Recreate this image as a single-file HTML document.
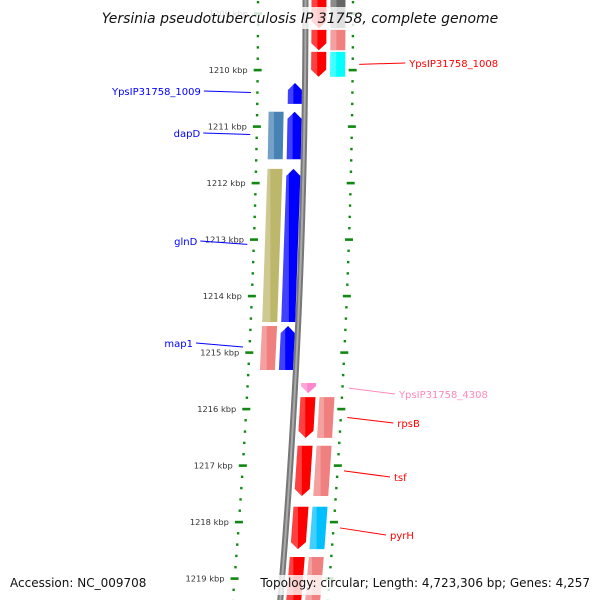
<!DOCTYPE html>
<html><head><meta charset="utf-8"><style>
html,body{margin:0;padding:0;background:#fff}
svg{display:block;font-family:"DejaVu Sans","Liberation Sans",sans-serif}
</style></head><body>
<svg id="map" width="600" height="600" viewBox="0 0 600 600" xmlns="http://www.w3.org/2000/svg">
<g id="layer"></g>
</svg>
<script>
// kbp tick labels
const kbpTicks = [1209,1210,1211,1212,1213,1214,1215,1216,1217,1218,1219];
// features
const featNames = ["r0","r1","YpsIP31758_1008","YpsIP31758_1009","dapD","glnD","map1","YpsIP31758_4308","rpsB","tsf","pyrH","r11"];
const featStart = [1208.41,1209.29,1209.68,1210.23,1210.74,1211.75,1214.53,1215.54,1215.79,1216.65,1217.73,1218.62];
const featEnd   = [1209.26,1209.65,1210.12,1210.60,1211.58,1214.46,1215.31,1215.72,1216.51,1217.54,1218.48,1219.6];
const featStrand= [-1,-1,-1,1,1,1,1,-1,-1,-1,-1,-1];
const featColor = ["#ff0000","#ff0000","#ff0000","#0000ff","#0000ff","#0000ff","#0000ff","#ff88cc","#ff0000","#ff0000","#ff0000","#ff0000"];
const colColor  = ["#666666","#f08080","#00ffff",null,"#4682b4","#bdb76b","#f08080",null,"#f08080","#f08080","#00bfff","#f08080"];
const showLabel = [false,false,true,true,true,true,true,true,true,true,true,false];
const labelColor= ["","","#ff0000","#0000ff","#0000ff","#0000ff","#0000ff","#ff88bb","#ff0000","#ff0000","#ff0000",""];
const labelY    = [0,0,63,91,133,241,343,394,423,477,535,0];

const NS="http://www.w3.org/2000/svg";
const L=document.getElementById('layer');
function yk(k){return 70+(k-1210)*56.5;}
function kx(y){return 305.5-7e-5*y*y;}
function mk(t,a,p){const e=document.createElementNS(NS,t);for(const k in a)e.setAttribute(k,a[k]);(p||L).appendChild(e);return e;}

const bbPts=[];for(let y=-5;y<=605;y+=10)bbPts.push(kx(y)+','+y);
let bb=mk('polyline',{points:bbPts.join(' '),fill:'none',stroke:'#777','stroke-width':6});


let bb2=mk('polyline',{points:bbPts.join(' '),fill:'none',stroke:'#aaa','stroke-width':2});



[-47.5,47.5].forEach((off,ri)=>{
  for(let i=0;i<=60;i++){
    const k=1208+i*0.2;
    const y=yk(k); if(y<-5||y>605)continue;
    const major=(i%5)===0;
    const x=kx(y)+off;
    const r=mk('rect',{x:major?x-4:x-1.2,y:y-1.2,width:major?8:2.4,height:major?2.6:2.4,fill:'#118811'});
    
    
  }
});
kbpTicks.forEach(k=>{
  const y=yk(k);
  const t=mk('text',{x:kx(y)-47.5-10,y:y+3,'font-size':8.3,fill:'#333','text-anchor':'end'});
  t.textContent=k+' kbp';
  
  
});

function band(y1,y2,o1,o2,fill,arrow,name){
  const h=7;let pts;
  const a=(y,o)=>(kx(y)+o)+','+y;
  const om=(o1+o2)/2;
  if(arrow===1){pts=[a(y1+h,o1),a(y1,om),a(y1+h,o2),a(y2,o2),a(y2,o1)];}
  else if(arrow===-1){pts=[a(y1,o1),a(y1,o2),a(y2-h,o2),a(y2,om),a(y2-h,o1)];}
  else pts=[a(y1,o1),a(y1,o2),a(y2,o2),a(y2,o1)];
  const p=mk('polygon',{points:pts.join(' '),fill:fill});
  
  
  const hl=mk('polygon',{points:pts.join(' '),fill:'#fff',opacity:0.25});
  
  
  hl.setAttribute('style','clip-path:inset(0 60% 0 0)');
}

featNames.forEach((n,i)=>{
  const y1=yk(featStart[i]),y2=yk(featEnd[i]);
  const s=featStrand[i];
  if(s===1){
    band(y1,y2,-17,-3,featColor[i],1,'gene-'+n);
    if(colColor[i])band(y1,y2,-36,-21,colColor[i],0,'cog-'+n);
  } else {
    band(y1,y2,6,21,featColor[i],-1,'gene-'+n);
    if(colColor[i])band(y1,y2,25,40,colColor[i],0,'cog-'+n);
  }
  if(showLabel[i]){
    const ly=labelY[i];
    const my=(y1+y2)/2;
    let lx,tx;
    if(s===1){lx=kx(my)-54;tx=lx-50;
      const ln=mk('line',{x1:lx,y1:my-1,x2:tx+3,y2:ly,stroke:labelColor[i],'stroke-width':1});
      
      const t=mk('text',{x:tx,y:ly+4,'font-size':10,fill:labelColor[i],'text-anchor':'end'});t.textContent=n;
      
    } else {lx=kx(my)+54;tx=lx+50;
      const ln=mk('line',{x1:lx,y1:my,x2:tx-4,y2:ly,stroke:labelColor[i],'stroke-width':1});
      
      const t=mk('text',{x:tx,y:ly+4,'font-size':10,fill:labelColor[i]});t.textContent=n;
      
    }
  }
});

let tb=mk('rect',{x:100,y:7,width:400,height:22,fill:'#fff',opacity:0.8});

let tt=mk('text',{x:300,y:23,'font-size':14,'font-style':'italic',fill:'#111','text-anchor':'middle'});
tt.textContent='Yersinia pseudotuberculosis IP 31758, complete genome';

let fb=mk('rect',{x:258,y:575,width:337,height:20,fill:'#fff',opacity:0.8});

let ac=mk('text',{x:10,y:587,'font-size':12,fill:'#111'});
ac.textContent='Accession: NC_009708';

let tp=mk('text',{x:590,y:587,'font-size':12,fill:'#111','text-anchor':'end'});
tp.textContent='Topology: circular; Length: 4,723,306 bp; Genes: 4,257';

</script>
</body></html>
